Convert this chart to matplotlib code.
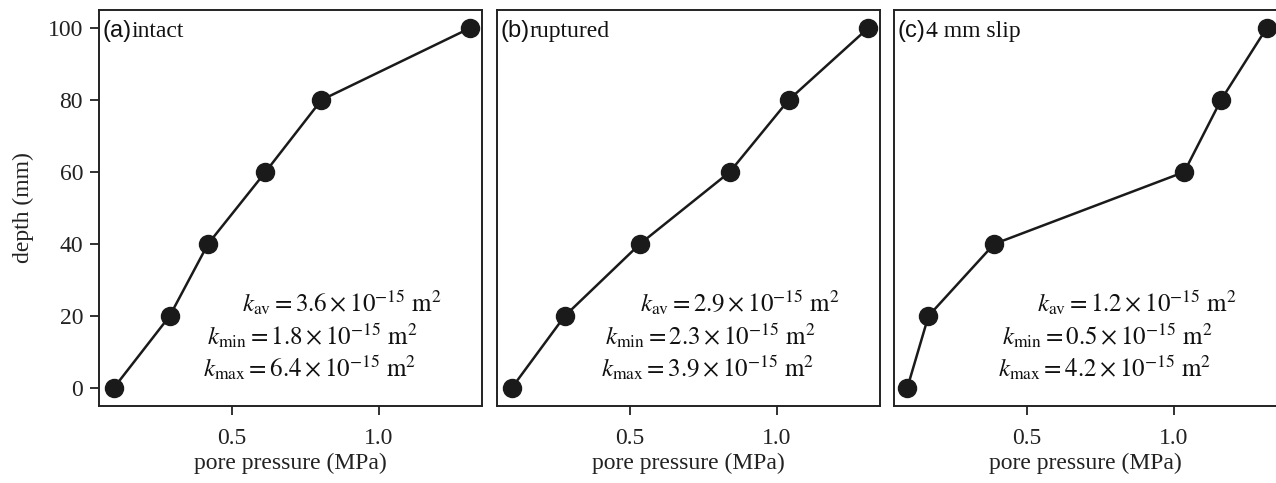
import matplotlib
matplotlib.use("Agg")
import matplotlib.pyplot as plt
from matplotlib.offsetbox import TextArea, HPacker, AnchoredOffsetbox

plt.rcParams['font.family'] = 'serif'
plt.rcParams['font.serif'] = ['Liberation Serif', 'DejaVu Serif']
plt.rcParams['mathtext.fontset'] = 'stix'

# ---- data ----
depth = [0, 20, 40, 60, 80, 100]
p_intact = [0.10, 0.29, 0.42, 0.615, 0.805, 1.31]
p_ruptured = [0.10, 0.28, 0.535, 0.84, 1.04, 1.31]
p_slip = [0.095, 0.167, 0.39, 1.035, 1.16, 1.315]

panel_tags = ["(a)", "(b)", "(c)"]
panel_names = ["intact", "ruptured", "4 mm slip"]
k_av = ["3.6", "2.9", "1.2"]
k_min = ["1.8", "2.3", "0.5"]
k_max = ["6.4", "3.9", "4.2"]

series = [p_intact, p_ruptured, p_slip]

fig = plt.figure(figsize=(12.76, 4.83), dpi=100)
W, H = 1276, 483
lefts = [99, 497, 894]
ax_w = 383
bottom_px, top_px = 406, 10

axes = []
for i in range(3):
    ax = fig.add_axes([lefts[i] / W, 1 - bottom_px / H, ax_w / W, (bottom_px - top_px) / H])
    axes.append(ax)

FS = 17
KFS = 18
for i, ax in enumerate(axes):
    ax.plot(series[i], depth, color='#1a1a1a', lw=1.8, marker='o', ms=13,
            markerfacecolor='#1a1a1a', markeredgecolor='#1a1a1a', zorder=3)
    ax.set_xlim(0.05, 1.35)
    ax.set_ylim(-5, 105)
    ax.set_xticks([0.5, 1.0])
    ax.set_xticklabels(["0.5", "1.0"])
    ax.tick_params(axis='both', direction='out', length=6.5, width=1.3,
                   labelsize=FS, colors='#222222', pad=5)
    ax.tick_params(axis='x', pad=9)
    ax.set_xlabel("pore pressure (MPa)", fontsize=FS, color='#222222', labelpad=3)
    for sp in ax.spines.values():
        sp.set_linewidth(1.4)
        sp.set_color('#222222')
    if i == 0:
        ax.set_yticks([0, 20, 40, 60, 80, 100])
        ax.set_ylabel("depth (mm)", fontsize=FS, color='#222222', labelpad=10)
    else:
        ax.set_yticks([])

    # panel label: sans tag + serif name
    tag = TextArea(panel_tags[i], textprops=dict(family='Liberation Sans', fontsize=FS, color='#111111'))
    name = TextArea(panel_names[i], textprops=dict(family='serif', fontsize=FS, color='#111111'))
    box = HPacker(children=[tag, name], align='baseline', pad=0, sep=0)
    anch = AnchoredOffsetbox(loc='upper left', child=box, pad=0.0, borderpad=0.0,
                             frameon=False, bbox_to_anchor=(0.01, 0.975),
                             bbox_transform=ax.transAxes)
    ax.add_artist(anch)

    ax.text(0.374, 0.237, r"$k_{\rm av} = %s\times10^{-15}\ {\rm m}^2$" % k_av[i],
            transform=ax.transAxes, fontsize=KFS, va='baseline', ha='left', color='#111111')
    ax.text(0.283, 0.154, r"$k_{\rm min} = %s\times10^{-15}\ {\rm m}^2$" % k_min[i],
            transform=ax.transAxes, fontsize=KFS, va='baseline', ha='left', color='#111111')
    ax.text(0.271, 0.073, r"$k_{\rm max} = %s\times10^{-15}\ {\rm m}^2$" % k_max[i],
            transform=ax.transAxes, fontsize=KFS, va='baseline', ha='left', color='#111111')

fig.savefig("out.png", dpi=100)
